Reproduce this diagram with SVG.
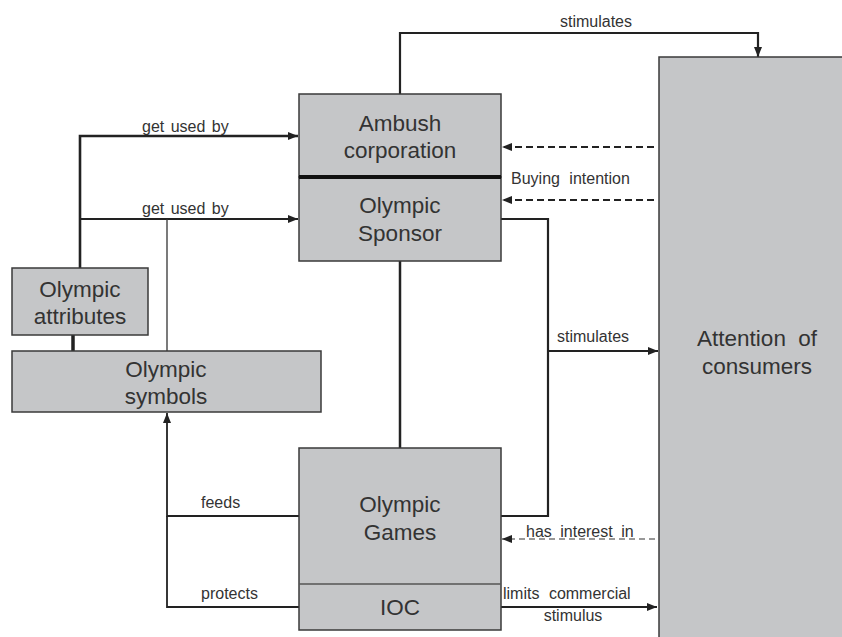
<svg xmlns="http://www.w3.org/2000/svg" width="842" height="637" viewBox="0 0 842 637">
<style>
.box{fill:#c5c6c8;stroke:#3a3a3a;stroke-width:1.5}
.t{font-family:"Liberation Sans",Arial,sans-serif;fill:#333;text-anchor:middle}
.big{font-size:22.5px}
.lab{font-size:16px;fill:#333;font-family:"Liberation Sans",Arial,sans-serif}
.c{fill:none;stroke:#222;stroke-width:2.2}
.thin{fill:none;stroke:#333;stroke-width:1.3}
.dash{fill:none;stroke:#222;stroke-width:2;stroke-dasharray:7,4}
.dash2{fill:none;stroke:#333;stroke-width:1.2;stroke-dasharray:6,4}
</style>
<defs>
<marker id="ah" viewBox="0 0 10 10" refX="10" refY="5" markerWidth="10" markerHeight="10" markerUnits="userSpaceOnUse" orient="auto">
<path d="M0,1 L10,5 L0,9 z" fill="#222"/>
</marker>
</defs>
<rect width="842" height="637" fill="#fff"/>
<g id="connectors">
<path class="c" d="M400,94 V33 H758 V57" marker-end="url(#ah)"/>
<path class="dash" d="M654,147 H502" marker-end="url(#ah)"/>
<path class="dash" d="M654,200 H502" marker-end="url(#ah)"/>
<path class="c" d="M501,219 H548 V516 H501"/>
<path class="c" d="M548,351 H658" marker-end="url(#ah)"/>
<path class="dash2" d="M655,539 H502" marker-end="url(#ah)"/>
<path class="c" d="M501,607 H657" marker-end="url(#ah)"/>
<path class="c" d="M80,268 V136 H298" marker-end="url(#ah)" style="stroke-width:2.6"/>
<path class="c" d="M80,219 H298" marker-end="url(#ah)" style="stroke-width:1.8"/>
<path class="c" d="M73,335 V351" style="stroke-width:3.5"/>
<path class="thin" d="M167,219 V351"/>
<path class="c" d="M400,261 V448" style="stroke-width:2.5"/>
<path class="c" d="M299,516 H167 V413" marker-end="url(#ah)" style="stroke-width:1.8"/>
<path class="c" d="M299,607 H167 V516" style="stroke-width:1.8"/>
<text class="lab" x="596" y="27" text-anchor="middle">stimulates</text>
<text class="lab" x="511" y="184" word-spacing="5">Buying intention</text>
<text class="lab" x="557" y="342">stimulates</text>
<text class="lab" x="526" y="537" word-spacing="4">has interest in</text>
<text class="lab" x="503" y="599" word-spacing="5">limits commercial</text>
<text class="lab" x="573" y="621" text-anchor="middle">stimulus</text>
<text class="lab" x="142" y="132" word-spacing="2">get used by</text>
<text class="lab" x="142" y="214" word-spacing="2">get used by</text>
<text class="lab" x="201" y="508">feeds</text>
<text class="lab" x="201" y="599">protects</text>
</g>
<g id="attention">
<rect class="box" x="659" y="57" width="190" height="590"/>
<text class="t big" x="757" y="346" word-spacing="6">Attention of</text>
<text class="t big" x="757" y="374">consumers</text>
</g>
<g id="ambush">
<rect class="box" x="299" y="94" width="202" height="83"/>
<text class="t big" x="400" y="131">Ambush</text>
<text class="t big" x="400" y="158">corporation</text>
</g>
<g id="sponsor">
<rect class="box" x="299" y="177" width="202" height="84"/>
<text class="t big" x="400" y="213">Olympic</text>
<text class="t big" x="400" y="241">Sponsor</text>
</g>
<path d="M299,177 H501" stroke="#111" stroke-width="4"/>
<g id="attributes">
<rect class="box" x="12" y="268" width="136" height="67"/>
<text class="t big" x="80" y="297">Olympic</text>
<text class="t big" x="80" y="324">attributes</text>
</g>
<g id="symbols">
<rect class="box" x="12" y="351" width="309" height="61"/>
<text class="t big" x="166" y="377">Olympic</text>
<text class="t big" x="166" y="404">symbols</text>
</g>
<g id="games">
<rect class="box" x="299" y="448" width="202" height="182"/>
<text class="t big" x="400" y="512">Olympic</text>
<text class="t big" x="400" y="540">Games</text>
</g>
<g id="ioc">
<path d="M299,584 H501" stroke="#555" stroke-width="1.5"/>
<text class="t big" x="400" y="615">IOC</text>
</g>
</svg>
